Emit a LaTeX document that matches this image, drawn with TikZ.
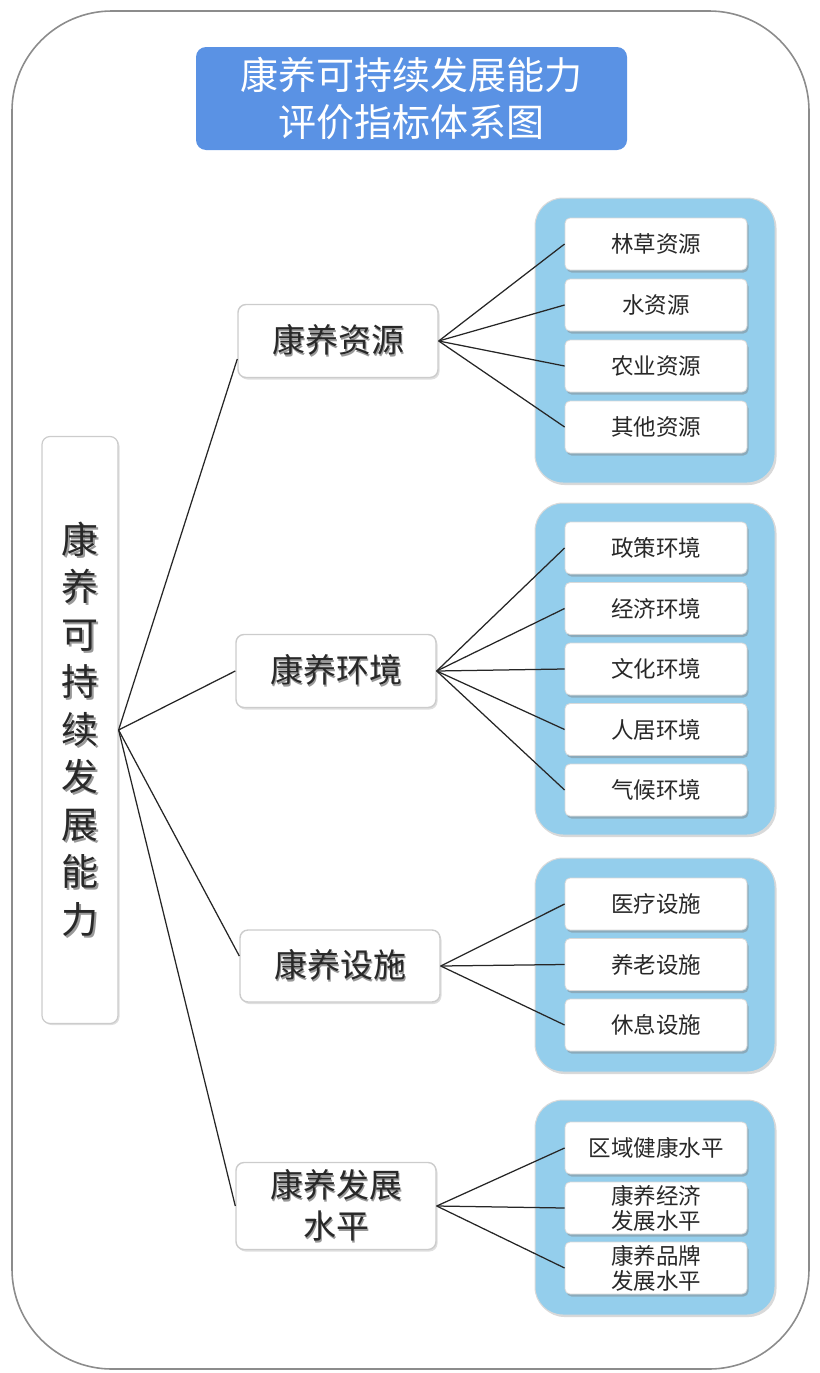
\documentclass[tikz,border=0pt]{standalone}
\usepackage{fontspec}
\setmainfont{Noto Sans CJK SC}
\usetikzlibrary{shadows,calc}
\definecolor{titleblue}{RGB}{90,146,228}
\definecolor{panelblue}{RGB}{148,206,236}
\definecolor{txt}{RGB}{40,40,40}
\newcommand\shtext[1]{\makebox[0pt][l]{\hspace{1.5pt}\raisebox{-1.8pt}{\textcolor{black!40}{#1}}}#1}
\tikzset{
  frame/.style={draw=black!45, line width=1.6pt, rounded corners=100pt},
  titlebox/.style={fill=titleblue, rounded corners=10pt, minimum width=431pt, minimum height=103pt,
    text=white, align=center, font=\fontsize{38}{47}\selectfont, inner sep=0pt},
  rootbox/.style={fill=white, draw=black!20, line width=1.2pt, rounded corners=8pt,
    minimum width=76pt, minimum height=587pt, inner sep=0pt, align=center, text=txt,
    font=\fontsize{37}{47.5}\selectfont,
    drop shadow={shadow xshift=1.5pt, shadow yshift=-1.5pt, opacity=0.25}},
  midbox/.style={fill=white, draw=black!20, line width=1.4pt, rounded corners=8pt,
    minimum width=200pt, inner sep=0pt, align=center, text=txt,
    font=\fontsize{33}{41}\selectfont,
    drop shadow={shadow xshift=1.5pt, shadow yshift=-2pt, opacity=0.25}},
  panel/.style={fill=panelblue, draw=black!15, line width=1pt, rounded corners=28pt,
    minimum width=240pt, inner sep=0pt,
    drop shadow={shadow xshift=1.5pt, shadow yshift=-2pt, opacity=0.3}},
  leaf/.style={fill=white, draw=black!15, line width=0.8pt, rounded corners=5pt,
    minimum width=182pt, minimum height=52pt, inner sep=0pt, align=center, text=txt,
    font=\fontsize{22.5}{27}\selectfont,
    drop shadow={shadow xshift=1.5pt, shadow yshift=-2.5pt, opacity=0.45}},
  link/.style={draw=black!85, line width=1.25pt},
}
\begin{document}
\begin{tikzpicture}[x=1pt,y=-1pt]
\useasboundingbox (0,0) rectangle (819,1373);
\draw[frame] (12,11) rectangle (809,1369);

\node[titlebox] (title) at (411.5,98.5) {康养可持续发展能力\\评价指标体系图};

\node[rootbox] (root) at (80,730) {\shtext{康}\\\shtext{养}\\\shtext{可}\\\shtext{持}\\\shtext{续}\\\shtext{发}\\\shtext{展}\\\shtext{能}\\\shtext{力}};

\node[midbox, minimum height=73pt] (r1) at (338,341) {\shtext{康养资源}};
\node[midbox, minimum height=73pt] (r2) at (336,671) {\shtext{康养环境}};
\node[midbox, minimum height=72pt] (r3) at (340,966) {\shtext{康养设施}};
\node[midbox, minimum height=87pt] (r4) at (336,1206) {\shtext{康养发展}\\\shtext{水平}};

\node[panel, minimum height=285pt] (p1) at (655,340.5) {};
\node[panel, minimum height=332pt] (p2) at (655,669) {};
\node[panel, minimum height=214pt] (p3) at (655,965) {};
\node[panel, minimum height=215pt] (p4) at (655,1207.5) {};

\node[leaf] (a1) at (656,244) {林草资源};
\node[leaf] (a2) at (656,305) {水资源};
\node[leaf] (a3) at (656,366) {农业资源};
\node[leaf] (a4) at (656,427) {其他资源};

\node[leaf] (b1) at (656,548) {政策环境};
\node[leaf] (b2) at (656,608.5) {经济环境};
\node[leaf] (b3) at (656,669) {文化环境};
\node[leaf] (b4) at (656,729.5) {人居环境};
\node[leaf] (b5) at (656,790) {气候环境};

\node[leaf] (c1) at (656,904) {医疗设施};
\node[leaf] (c2) at (656,964.5) {养老设施};
\node[leaf] (c3) at (656,1025) {休息设施};

\node[leaf] (d1) at (656,1148) {区域健康水平};
\node[leaf, font=\fontsize{22.5}{25}\selectfont] (d2) at (656,1208) {康养经济\\发展水平};
\node[leaf, font=\fontsize{22.5}{25}\selectfont] (d3) at (656,1268) {康养品牌\\发展水平};

\draw[link] (root.east) -- ([yshift=-18pt]r1.west);
\draw[link] (root.east) -- (r2.west);
\draw[link] (root.east) -- ([yshift=10pt]r3.west);
\draw[link] (root.east) -- (r4.west);

\foreach \n in {a1,a2,a3,a4} \draw[link] (r1.east) -- (\n.west);
\foreach \n in {b1,b2,b3,b4,b5} \draw[link] (r2.east) -- (\n.west);
\foreach \n in {c1,c2,c3} \draw[link] (r3.east) -- (\n.west);
\foreach \n in {d1,d2,d3} \draw[link] (r4.east) -- (\n.west);
\end{tikzpicture}
\end{document}
